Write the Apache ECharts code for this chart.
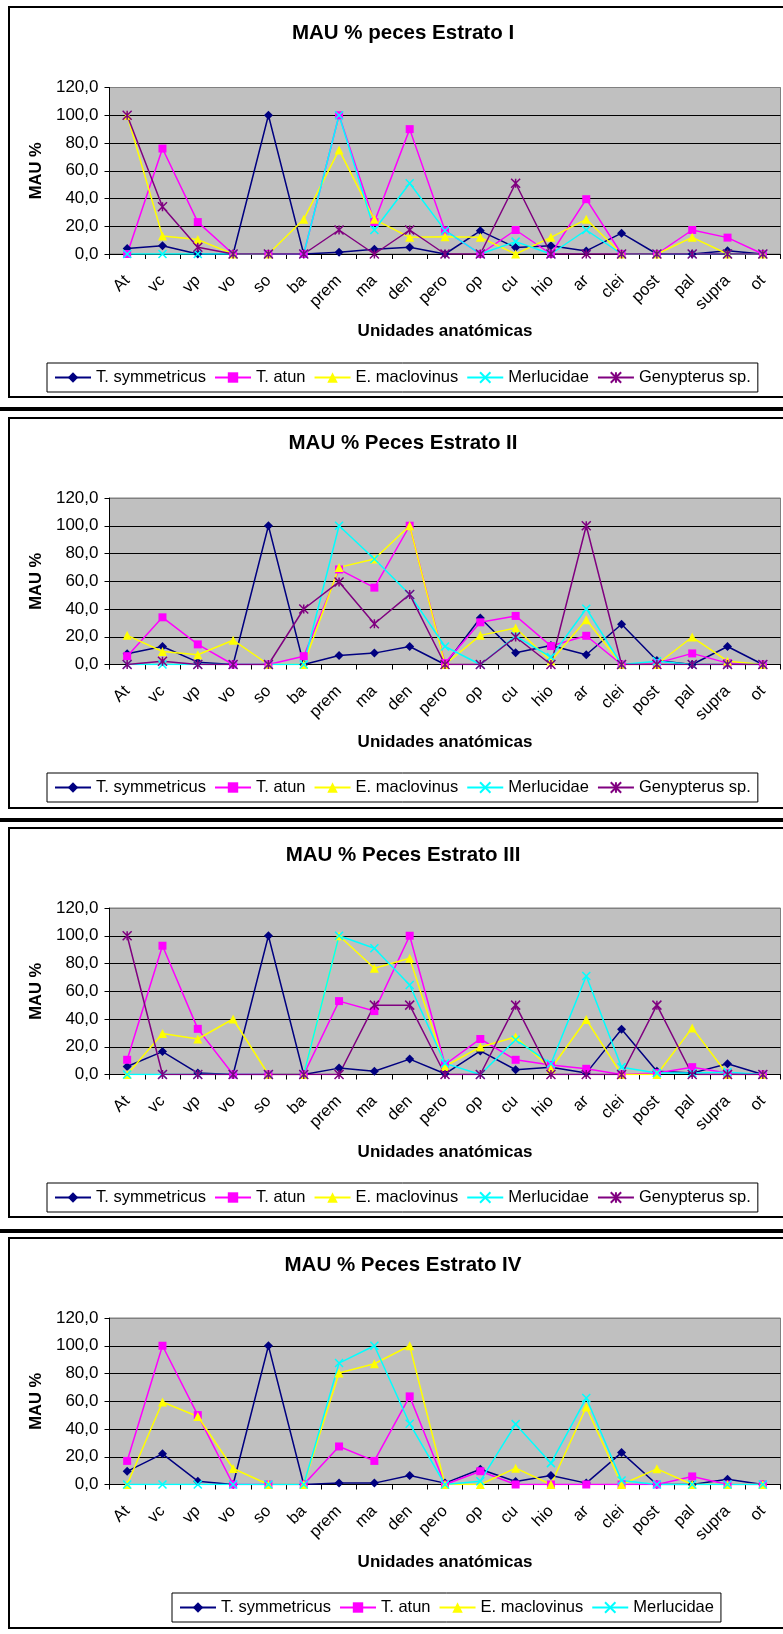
<!DOCTYPE html>
<html>
<head>
<meta charset="utf-8">
<script src="https://cdn.jsdelivr.net/npm/echarts@6/dist/echarts.min.js"></script>
<style>
  html, body { margin: 0; padding: 0; background: #ffffff; }
  #chart { width: 783px; height: 1634px; }
</style>
</head>
<body>
<div id="chart"></div>
<script>
// Anatomical units on the category axis
const categories = ['At', 'vc', 'vp', 'vo', 'so', 'ba', 'prem', 'ma', 'den', 'pero',
                    'op', 'cu', 'hio', 'ar', 'clei', 'post', 'pal', 'supra', 'ot'];

// Value axis ticks (MAU %)
const yTicks = [0, 20, 40, 60, 80, 100, 120];

const chartTitles = ['MAU % peces Estrato I', 'MAU % Peces Estrato II',
                     'MAU % Peces Estrato III', 'MAU % Peces Estrato IV'];
const xAxisTitle = 'Unidades anatómicas';
const yAxisTitle = 'MAU %';

const taxa = ['T. symmetricus', 'T. atun', 'E. maclovinus', 'Merlucidae', 'Genypterus sp.'];

// Estrato I
const symmetricusI = [4, 6, 0, 0, 100, 0, 1.2, 3.4, 4.8, 0, 16.7, 4.6, 6, 2.2, 15, 0, 0, 2.3, 0];
const atunI        = [0, 76, 23, 0, 0, 0, 100, 23, 90, 17, 0, 17.3, 0, 39.5, 0, 0, 17.3, 11.8, 0];
const maclovinusI  = [100, 13, 10.4, 0, 0, 25, 75, 25, 12, 12.5, 12, 0, 12, 25, 0, 0, 12, 0, 0];
const merlucidaeI  = [0, 0, 0, 0, 0, 0, 100, 17.3, 51, 17, 0, 8.9, 0, 17.3, 0, 0, 0, 0, 0];
const genypterusI  = [100, 34, 4.8, 0, 0, 0, 17.3, 0, 17.3, 0, 0, 51, 0, 0, 0, 0, 0, 0, 0];

// Estrato II
const symmetricusII = [7.7, 13, 1.7, 0, 100, 0, 6.5, 8.2, 13, 0, 33.5, 8.4, 13.7, 7, 29, 2.9, 0, 13, 0];
const atunII        = [6, 34, 14.5, 0, 0, 6, 68.5, 55.4, 100, 1, 30.4, 35, 13.3, 20.7, 0, 1, 8, 1, 0];
const maclovinusII  = [21, 9.4, 7, 17.5, 0, 0, 70, 76, 100, 0, 21, 26.3, 2.5, 32.3, 0, 0, 19.8, 2.4, 0];
const merlucidaeII  = [0, 0, 0, 0, 0, 0, 100, 76, 50.5, 13, 0, 20.5, 5.3, 40.2, 0, 2.4, 0, 0, 0];
const genypterusII  = [0, 2.4, 0, 0, 0, 40, 59.5, 29.4, 50.5, 0, 0, 19.8, 0, 100, 0, 0, 0, 0, 0];

// Estrato III
const symmetricusIII = [5.8, 16.5, 1, 0, 100, 0, 4.6, 2.4, 11.1, 0.5, 17, 3.4, 5.3, 1, 32.6, 2.4, 1, 7.7, 0];
const atunIII        = [10.6, 92.8, 32.9, 0, 0, 0, 52.9, 45.7, 100, 7.2, 25.6, 10.6, 6.8, 4.1, 0, 1, 5.3, 1, 0];
const maclovinusIII  = [0, 29.5, 25.6, 40, 0, 0, 100, 76.6, 83.8, 5.8, 19.8, 27, 4.1, 39.6, 0, 0, 33.6, 0, 0];
const merlucidaeIII  = [0, 0, 0, 0, 0, 0, 100, 91, 64.5, 8, 0, 25.1, 7.7, 71, 5.3, 1, 1, 1.7, 0];
const genypterusIII  = [100, 0, 0, 0, 0, 0, 0, 50, 50, 0, 0, 50, 0, 0, 0, 50, 0, 0, 0];

// Estrato IV (no Genypterus)
const symmetricusIV = [9.5, 22.1, 2.4, 0, 100, 0, 1, 1, 6.5, 1, 11, 2.2, 6.5, 1, 23, 0, 0, 3.8, 0];
const atunIV        = [17, 100, 50, 0, 0, 0, 27.4, 17, 63.5, 0, 9.6, 0, 0, 0, 0, 0, 5.8, 0, 0];
const maclovinusIV  = [0, 59.5, 49, 11.5, 0, 0, 80.3, 87, 100, 0, 0, 11.8, 0, 55.8, 0, 11.3, 0, 0, 0];
const merlucidaeIV  = [0, 0, 0, 0, 0, 0, 87.5, 100, 43.8, 0, 2.4, 43.5, 15.4, 62.3, 2.9, 0, 0, 0, 0];

const strata = [
  [symmetricusI, atunI, maclovinusI, merlucidaeI, genypterusI],
  [symmetricusII, atunII, maclovinusII, merlucidaeII, genypterusII],
  [symmetricusIII, atunIII, maclovinusIII, merlucidaeIII, genypterusIII],
  [symmetricusIV, atunIV, maclovinusIV, merlucidaeIV]
];

const FONT = '"Liberation Sans", Arial, sans-serif';

// Marker look per taxon
const markers = [
  { color: '#000080', symbol: 'diamond', size: 9, stroke: 0 },
  { color: '#FF00FF', symbol: 'rect', size: 8, stroke: 0 },
  { color: '#FFFF00', symbol: 'triangle', size: 9, stroke: 0 },
  { color: '#00FFFF', symbol: 'path://M0,0L10,10M10,0L0,10', size: 8, stroke: 1.5 },
  { color: '#800080', symbol: 'path://M0,0L10,10M10,0L0,10M5,0L5,10', size: 9, stroke: 1.5 }
];

// Panel geometry
const panelFrames = [[9, 7, 390], [9, 418, 390], [9, 828, 389], [9, 1238, 390]];
const separators = [407, 818, 1229];
const titleY = [33, 443, 855, 1265];
const gridTop = [87.5, 498, 908, 1318];
const legendPos = [[47, 363], [47, 773], [47, 1183], [172, 1593]];

const grids = [], xAxes = [], yAxes = [], series = [], legends = [], graphics = [];

strata.forEach((sets, i) => {
  grids.push({
    left: 109.5, top: gridTop[i], width: 671, height: 166.5,
    show: true, backgroundColor: '#C0C0C0', borderColor: '#808080', borderWidth: 1,
    containLabel: false, outerBoundsMode: 'none'
  });
  xAxes.push({
    type: 'category', gridIndex: i, data: categories, boundaryGap: true,
    axisLine: { show: true, lineStyle: { color: '#000', width: 1 } },
    axisTick: { show: true, interval: 0, length: 5, alignWithLabel: false, lineStyle: { color: '#000' } },
    axisLabel: { interval: 0, rotate: 45, margin: 24, color: '#000', fontFamily: FONT, fontSize: 16.5, hideOverlap: false },
    splitLine: { show: false },
    name: xAxisTitle, nameLocation: 'middle', nameGap: 69,
    nameTextStyle: { color: '#000', fontFamily: FONT, fontSize: 17, fontWeight: 'bold' }
  });
  yAxes.push({
    type: 'value', gridIndex: i, min: yTicks[0], max: yTicks[yTicks.length - 1], interval: yTicks[1] - yTicks[0],
    axisLine: { show: true, lineStyle: { color: '#000', width: 1 } },
    axisTick: { show: true, length: 5, inside: false, lineStyle: { color: '#000' } },
    axisLabel: {
      margin: 11, color: '#000', fontFamily: FONT, fontSize: 17,
      formatter: v => v.toFixed(1).replace('.', ',')
    },
    splitLine: { show: true, lineStyle: { color: ['#000', '#000', '#000', '#000', '#000', '#000', '#808080'], width: 1 } },
    name: yAxisTitle, nameLocation: 'middle', nameGap: 64, nameRotate: 90,
    nameTextStyle: { color: '#000', fontFamily: FONT, fontSize: 16.5, fontWeight: 'bold' }
  });
  sets.forEach((values, k) => {
    const m = markers[k];
    series.push({
      type: 'line', name: taxa[k], xAxisIndex: i, yAxisIndex: i, data: values,
      symbol: m.symbol, symbolSize: m.size, showSymbol: true, showAllSymbol: true,
      lineStyle: { color: m.color, width: 1.5 },
      itemStyle: { color: m.color, borderColor: m.color, borderWidth: m.stroke },
      emphasis: { disabled: true }, animation: false, silent: true
    });
  });
  legends.push({
    show: true, left: legendPos[i][0], top: legendPos[i][1], orient: 'horizontal',
    data: taxa.slice(0, sets.length),
    padding: [6, 7], itemGap: 8, itemWidth: 36, itemHeight: 13,
    borderColor: '#000', borderWidth: 1, backgroundColor: '#fff', borderRadius: 0,
    selectedMode: false,
    textStyle: { color: '#000', fontFamily: FONT, fontSize: 16.5 }
  });
  graphics.push({
    type: 'rect', silent: true, z: 100,
    shape: { x: panelFrames[i][0], y: panelFrames[i][1], width: 790, height: panelFrames[i][2] },
    style: { fill: 'none', stroke: '#000', lineWidth: 2 }
  });
  graphics.push({
    type: 'text', silent: true, x: 403, y: titleY[i],
    style: { text: chartTitles[i], align: 'center', verticalAlign: 'middle',
             font: 'bold 20.5px ' + FONT, fill: '#000' }
  });
});

separators.forEach(y => {
  graphics.push({
    type: 'rect', silent: true, z: 100,
    shape: { x: 0, y: y, width: 783, height: 4 },
    style: { fill: '#000' }
  });
});

const chart = echarts.init(document.getElementById('chart'), null, { renderer: 'canvas' });
chart.setOption({
  backgroundColor: '#ffffff',
  animation: false,
  grid: grids,
  xAxis: xAxes,
  yAxis: yAxes,
  legend: legends,
  series: series,
  graphic: graphics
});
</script>
</body>
</html>
